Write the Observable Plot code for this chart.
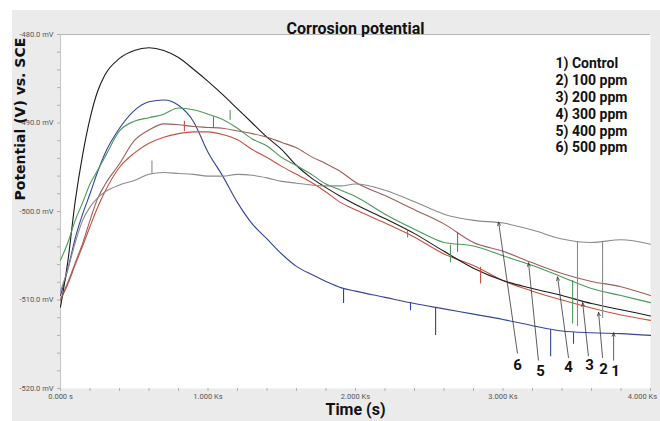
<!DOCTYPE html>
<html><head><meta charset="utf-8">
<script src="https://cdn.jsdelivr.net/npm/d3@7"></script>
<script src="https://cdn.jsdelivr.net/npm/@observablehq/plot@0.6"></script>
<style>
body{margin:0;background:#fff;}
#wrap{position:relative;width:660px;height:421px;overflow:hidden;}
#panel{position:absolute;left:12px;top:10px;right:0;bottom:0;background:#ebebeb;}
#chart{position:absolute;left:0;top:0;}
</style></head><body>
<div id="wrap"><div id="panel"></div><div id="chart"></div></div>
<script>
// ---- data ----
const titleText = "Corrosion potential";
const xLabel = "Time (s)";
const yLabel = "Potential (V) vs. SCE";
const series = ["Control", "100 ppm", "200 ppm", "300 ppm", "400 ppm", "500 ppm"];
const legendLabels = ["1) Control", "2) 100 ppm", "3) 200 ppm", "4) 300 ppm", "5) 400 ppm", "6) 500 ppm"];
const seriesColors = ["#34449c", "#c8503f", "#1c1c1c", "#4a9a5a", "#9c5e5c", "#8a8a8a"];

const xTicks = [0, 1000, 2000, 3000, 4000];
const xTickLabels = ["0.000 s", "1.000 Ks", "2.000 Ks", "3.000 Ks", "4.000 Ks"];
const yTicks = [-480, -490, -500, -510, -520];
const yTickLabels = ["-480.0 mV", "-490.0 mV", "-500.0 mV", "-510.0 mV", "-520.0 mV"];

const time = [0, 50, 100, 150, 200, 250, 300, 400, 500, 600, 700, 800, 900, 1000, 1100, 1200, 1300, 1400, 1500, 1600, 1700, 1800, 1900, 2000, 2200, 2400, 2600, 2800, 3000, 3200, 3400, 3600, 3800, 4000];
const vControl = [-509.5, -506.5, -503.0, -500.3, -498.0, -495.6, -493.5, -490.6, -488.6, -487.6, -487.4, -488.0, -489.8, -493.3, -496.0, -499.0, -501.4, -503.1, -504.8, -506.2, -507.1, -507.9, -508.6, -509.0, -509.7, -510.4, -511.0, -511.6, -512.2, -512.9, -513.5, -513.7, -513.8, -514.0];
const v100 = [-510.0, -508.2, -506.0, -503.9, -501.7, -499.6, -497.8, -495.0, -493.4, -492.3, -491.6, -491.2, -491.0, -491.0, -491.3, -491.9, -493.0, -493.9, -494.9, -495.8, -496.7, -497.8, -499.0, -499.8, -501.3, -502.9, -504.8, -506.1, -507.8, -509.0, -510.0, -510.9, -511.7, -512.3];
const v200 = [-510.8, -505.6, -498.8, -493.6, -489.5, -486.5, -484.6, -482.7, -481.8, -481.5, -481.8, -482.6, -483.9, -485.3, -486.8, -488.4, -490.0, -491.6, -493.0, -494.8, -496.2, -497.3, -498.3, -499.2, -500.8, -502.5, -504.5, -506.4, -507.8, -508.7, -509.5, -510.4, -511.1, -511.8];
const v300 = [-505.5, -503.5, -501.0, -499.0, -496.9, -495.4, -493.9, -490.9, -489.8, -489.4, -489.0, -488.3, -488.5, -489.0, -489.6, -490.6, -491.8, -492.6, -493.9, -494.8, -495.8, -496.9, -497.6, -498.3, -500.3, -502.0, -503.5, -503.9, -505.0, -506.1, -507.4, -508.7, -509.5, -510.3];
const v400 = [-510.0, -508.0, -505.8, -503.6, -501.0, -498.6, -497.0, -494.6, -492.0, -490.8, -490.1, -490.2, -490.4, -490.5, -490.6, -490.9, -491.2, -491.6, -492.2, -492.8, -493.8, -494.6, -495.5, -496.7, -498.2, -499.8, -501.4, -503.5, -504.5, -505.8, -507.0, -507.9, -508.5, -509.5];
const v500 = [-509.0, -506.5, -503.5, -501.0, -499.5, -498.5, -497.8, -497.0, -496.5, -495.8, -495.6, -495.7, -495.8, -496.0, -496.0, -495.8, -495.9, -496.2, -496.6, -496.8, -497.0, -497.1, -497.1, -496.9, -497.6, -498.9, -500.3, -501.0, -501.3, -502.1, -503.1, -503.5, -503.2, -503.7];
const seriesValues = [vControl, v100, v200, v300, v400, v500];

// sharp spikes in the traces: series, time, base value, tip value
const spikeSeries = ["500 ppm", "100 ppm", "400 ppm", "300 ppm", "300 ppm", "300 ppm", "300 ppm", "400 ppm", "100 ppm", "Control", "Control", "Control", "Control", "Control", "500 ppm", "500 ppm"];
const spikeTime = [620, 840, 1037, 1150, 2353, 2644, 3472, 2692, 2848, 1919, 2373, 2543, 3323, 3478, 3505, 3675];
const spikeBase = [-495.8, -491.0, -490.5, -489.7, -502.1, -503.8, -507.8, -502.4, -506.3, -508.7, -510.3, -510.9, -513.4, -513.7, -503.4, -503.4];
const spikeTip = [-494.3, -489.8, -489.3, -488.6, -503.0, -505.8, -512.7, -504.6, -508.2, -510.4, -511.2, -514.0, -516.4, -515.0, -513.0, -512.1];

// numbered arrow annotations
const arrowLabels = ["1", "2", "3", "4", "5", "6"];
const arrowTipT = [3750, 3648, 3540, 3370, 3173, 2970];
const arrowTipV = [-513.7, -511.4, -510.3, -507.4, -505.8, -501.2];
const arrowTailT = [3750, 3675, 3579, 3444, 3240, 3098];
const arrowTailV = [-516.8, -516.5, -516.3, -516.5, -516.8, -516.0];
const labelT = [3763, 3681, 3586, 3444, 3254, 3098];
const labelV = [-518.1, -517.8, -517.4, -517.6, -518.0, -517.4];

// ---- build tables ----
const rows = [];
series.forEach((s, k) => time.forEach((t, i) => rows.push({series: s, t, v: seriesValues[k][i]})));
const spikes = spikeTime.map((t, i) => ({series: spikeSeries[i], t, v0: spikeBase[i], v1: spikeTip[i]}));
const arrows = arrowLabels.map((l, i) => ({label: l, x2: arrowTipT[i], y2: arrowTipV[i], x1: arrowTailT[i], y1: arrowTailV[i], lx: labelT[i], ly: labelV[i]}));

const narrow = "'Liberation Sans Narrow', 'Roboto', sans-serif";
const minorX = d3.range(0, 4001, 200);
const minorY = d3.range(-520, -479, 2);
const xFmt = (d) => xTickLabels[xTicks.indexOf(d)];

const chart = Plot.plot({
  width: 660, height: 421,
  marginLeft: 60, marginRight: 10, marginTop: 34, marginBottom: 33,
  style: {background: "transparent", fontFamily: narrow, overflow: "visible"},
  x: {domain: [0, 4000]},
  y: {domain: [-520, -480]},
  color: {domain: series, range: seriesColors},
  marks: [
    Plot.frame({fill: "white", stroke: null}),
    Plot.ruleY([-480], {stroke: "#b4b4b4", strokeWidth: 1.2}),
    Plot.ruleX([0], {stroke: "#c4c4c4"}),
    Plot.axisX({ticks: minorX, tickFormat: () => "", tickSize: 3, stroke: "#b0b0b0", label: null}),
    Plot.axisX({ticks: xTicks.slice(0, 4), tickFormat: xFmt, tickSize: 0, tickPadding: 5, fontSize: 7.5, fill: "#555", label: null}),
    Plot.axisX({ticks: xTicks.slice(4), tickFormat: xFmt, tickSize: 0, tickPadding: 5, fontSize: 7.5, fill: "#555", label: null, dx: -8}),
    Plot.axisY({ticks: minorY, tickFormat: () => "", tickSize: 3, stroke: "#b0b0b0", label: null}),
    Plot.axisY({ticks: yTicks, tickFormat: (d) => yTickLabels[yTicks.indexOf(d)], tickSize: 0, tickPadding: 7, fontSize: 7.5, fill: "#555", label: null}),
    Plot.line(rows, {x: "t", y: "v", z: "series", stroke: "series", strokeWidth: 1.1, curve: "monotone-x"}),
    Plot.ruleX(spikes, {x: "t", y1: "v0", y2: "v1", stroke: "series", strokeWidth: 1.1}),
    Plot.arrow(arrows, {x1: "x1", y1: "y1", x2: "x2", y2: "y2", stroke: "#333", strokeWidth: 0.8, headLength: 7, headAngle: 45}),
    Plot.text(arrows, {x: "lx", y: "ly", text: "label", fontSize: 15, fontWeight: "bold", fill: "#111"}),
    Plot.text([legendLabels.join("\n")], {frameAnchor: "top-left", dx: 495, dy: 22, textAnchor: "start", lineAnchor: "top", lineHeight: 1.2, fontSize: 14, fontWeight: "bold", fill: "#111"}),
    Plot.text([titleText], {frameAnchor: "top", dy: -12, fontSize: 16, fontWeight: "bold", fill: "#111"}),
    Plot.text([xLabel], {frameAnchor: "bottom", dy: 26, fontSize: 16, fontWeight: "bold", fill: "#111"}),
    Plot.text([yLabel], {frameAnchor: "left", dx: -40, dy: -11, rotate: -90, fontSize: 14, fontWeight: "bold", fontFamily: "'DejaVu Sans', sans-serif", fill: "#111"})
  ]
});
document.getElementById("chart").appendChild(chart);
</script>
</body></html>
